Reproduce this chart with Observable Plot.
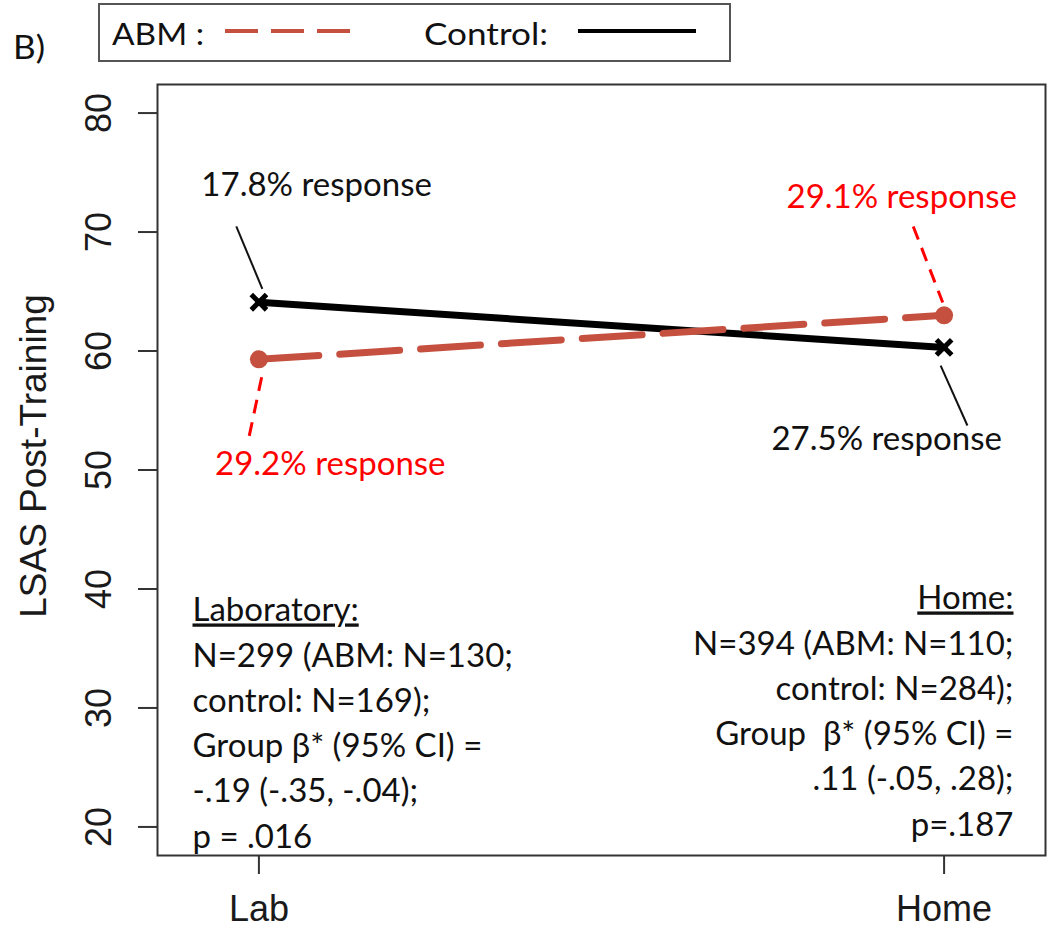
<!DOCTYPE html>
<html>
<head>
<meta charset="utf-8">
<script src="https://cdn.jsdelivr.net/npm/d3@7"></script>
<script src="https://cdn.jsdelivr.net/npm/@observablehq/plot@0.6"></script>
<style>
  html, body { margin: 0; padding: 0; background: #fff; }
  #wrap { width: 1050px; }
  #header { display: block; }
</style>
</head>
<body>
<div id="wrap">
  <svg id="header" width="1050" height="66" font-family="Lato, sans-serif">
    <text x="13" y="59" font-size="33" fill="#111" textLength="32" lengthAdjust="spacingAndGlyphs">B)</text>
    <rect x="99" y="4" width="631" height="57" fill="none" stroke="#555" stroke-width="2"></rect>
    <text id="lgA" x="112" y="45" font-size="31" fill="#111" textLength="92" lengthAdjust="spacingAndGlyphs"></text>
    <line x1="225" x2="351" y1="31" y2="31" stroke="#C5503F" stroke-width="4" stroke-dasharray="33 13"></line>
    <text id="lgC" x="424" y="45" font-size="31" fill="#111" textLength="124" lengthAdjust="spacingAndGlyphs"></text>
    <line x1="578" x2="696" y1="31" y2="31" stroke="#000" stroke-width="4"></line>
  </svg>
  <div id="chart"></div>
</div>
<script>
// ---- data ----
const sites = ["Lab", "Home"];
const abmValues = [59.3, 63.0];
const controlValues = [64.1, 60.3];
const yTicks = [20, 30, 40, 50, 60, 70, 80];
const seriesNames = ["ABM :", "Control:"];

const responseLabels = ["17.8% response", "29.1% response", "29.2% response", "27.5% response"];
const labStats = ["Laboratory:", "N=299 (ABM: N=130;", "control: N=169);", "Group β* (95% CI) =", "-.19 (-.35, -.04);", "p = .016"];
const homeStats = ["Home:", "N=394 (ABM: N=110;", "control: N=284);", "Group\u00a0 β* (95% CI) =", ".11 (-.05, .28);", "p=.187"];

// annotation placement (data units)
const labelPlacement = [
  {x: 0.916, y: 73.07, color: "#111"},
  {x: 1.770, y: 72.06, color: "#ff0000"},
  {x: 0.936, y: 49.54, color: "#ff0000"},
  {x: 1.748, y: 51.64, color: "#111"}
];
const leaders = [
  {x1: 0.967, y1: 70.47, x2: 1.005, y2: 65.23, color: "#111", dash: null, w: 2},
  {x1: 1.004, y1: 57.80, x2: 0.985, y2: 52.62, color: "#ff0000", dash: "14,9", w: 3},
  {x1: 1.955, y1: 70.47, x2: 1.998, y2: 64.08, color: "#ff0000", dash: "14,9", w: 3},
  {x1: 1.995, y1: 58.78, x2: 2.034, y2: 53.74, color: "#111", dash: null, w: 2}
];

document.getElementById("lgA").textContent = seriesNames[0];
document.getElementById("lgC").textContent = seriesNames[1];

// R-style 4% axis expansion
const pad = ([a, b]) => [a - (b - a) * 0.04, b + (b - a) * 0.04];

const abmRows = sites.map((s, i) => ({site: s, pos: i + 1, value: abmValues[i]}));
const controlRows = sites.map((s, i) => ({site: s, pos: i + 1, value: controlValues[i]}));
const labels = responseLabels.map((t, i) => ({text: t, ...labelPlacement[i]}));

const plot = Plot.plot({
  width: 1050,
  height: 863,
  marginLeft: 157,
  marginRight: 5,
  marginTop: 18,
  marginBottom: 74,
  x: {domain: pad([0.9, 2.1])},
  y: {domain: pad([20, 80])},
  style: {fontFamily: "'Liberation Sans', Arial, sans-serif", color: "#1a1a1a", background: "#fff"},
  marks: [
    Plot.frame({stroke: "#333", strokeWidth: 2}),
    Plot.axisY({ticks: yTicks, tickSize: 19, tickFormat: () => "", stroke: "#333", strokeWidth: 2, label: null}),
    Plot.text(yTicks, {y: d => d, text: d => String(d), frameAnchor: "left", dx: -47, rotate: -90,
      textAnchor: "middle", lineAnchor: "bottom", fontSize: 36, fill: "#1a1a1a"}),
    Plot.text(["LSAS Post-Training"], {frameAnchor: "left", dx: -112, dy: -14, rotate: -90,
      textAnchor: "middle", lineAnchor: "bottom", fontSize: 37, fill: "#1a1a1a"}),
    Plot.axisX({ticks: [1, 2], tickSize: 19, tickPadding: 21, tickFormat: d => sites[d - 1],
      fontSize: 36, stroke: "#333", strokeWidth: 2, label: null}),
    // leader lines
    ...leaders.map(l => Plot.link([l], {x1: "x1", y1: "y1", x2: "x2", y2: "y2", stroke: l.color,
      strokeWidth: l.w, strokeDasharray: l.dash ?? undefined})),
    // series lines
    Plot.line(controlRows, {x: "pos", y: "value", stroke: "#000", strokeWidth: 7}),
    Plot.line(abmRows, {x: "pos", y: "value", stroke: "#C5503F", strokeWidth: 7, strokeDasharray: "60,21"}),
    Plot.dot(controlRows, {x: "pos", y: "value", symbol: "times", r: 7, stroke: "#000", strokeWidth: 5}),
    Plot.dot(abmRows, {x: "pos", y: "value", symbol: "circle", r: 9, fill: "#C5503F", stroke: "none"}),
    // response labels
    Plot.text(labels, {x: "x", y: "y", text: "text", fill: "color", textAnchor: "start", lineAnchor: "bottom",
      fontSize: 33, fontFamily: "Lato, sans-serif"}),
    // stats blocks
    Plot.text([labStats.join("\n")], {frameAnchor: "bottom-left", dx: 35, dy: -8, textAnchor: "start",
      lineAnchor: "bottom", lineHeight: 1.37, fontSize: 33, fontFamily: "Lato, sans-serif", fill: "#111"}),
    Plot.text([homeStats.join("\n")], {frameAnchor: "bottom-right", dx: -32, dy: -20, textAnchor: "end",
      lineAnchor: "bottom", lineHeight: 1.37, fontSize: 33, fontFamily: "Lato, sans-serif", fill: "#111"})
  ]
});

d3.select(plot).selectAll("tspan, text").each(function () {
  if (this.children.length === 0 && (this.textContent === "Laboratory:" || this.textContent === "Home:")) {
    this.style.textDecoration = "underline";
  }
});
d3.select(plot).selectAll("text").style("white-space", "pre");

document.getElementById("chart").appendChild(plot);
</script>
</body>
</html>
